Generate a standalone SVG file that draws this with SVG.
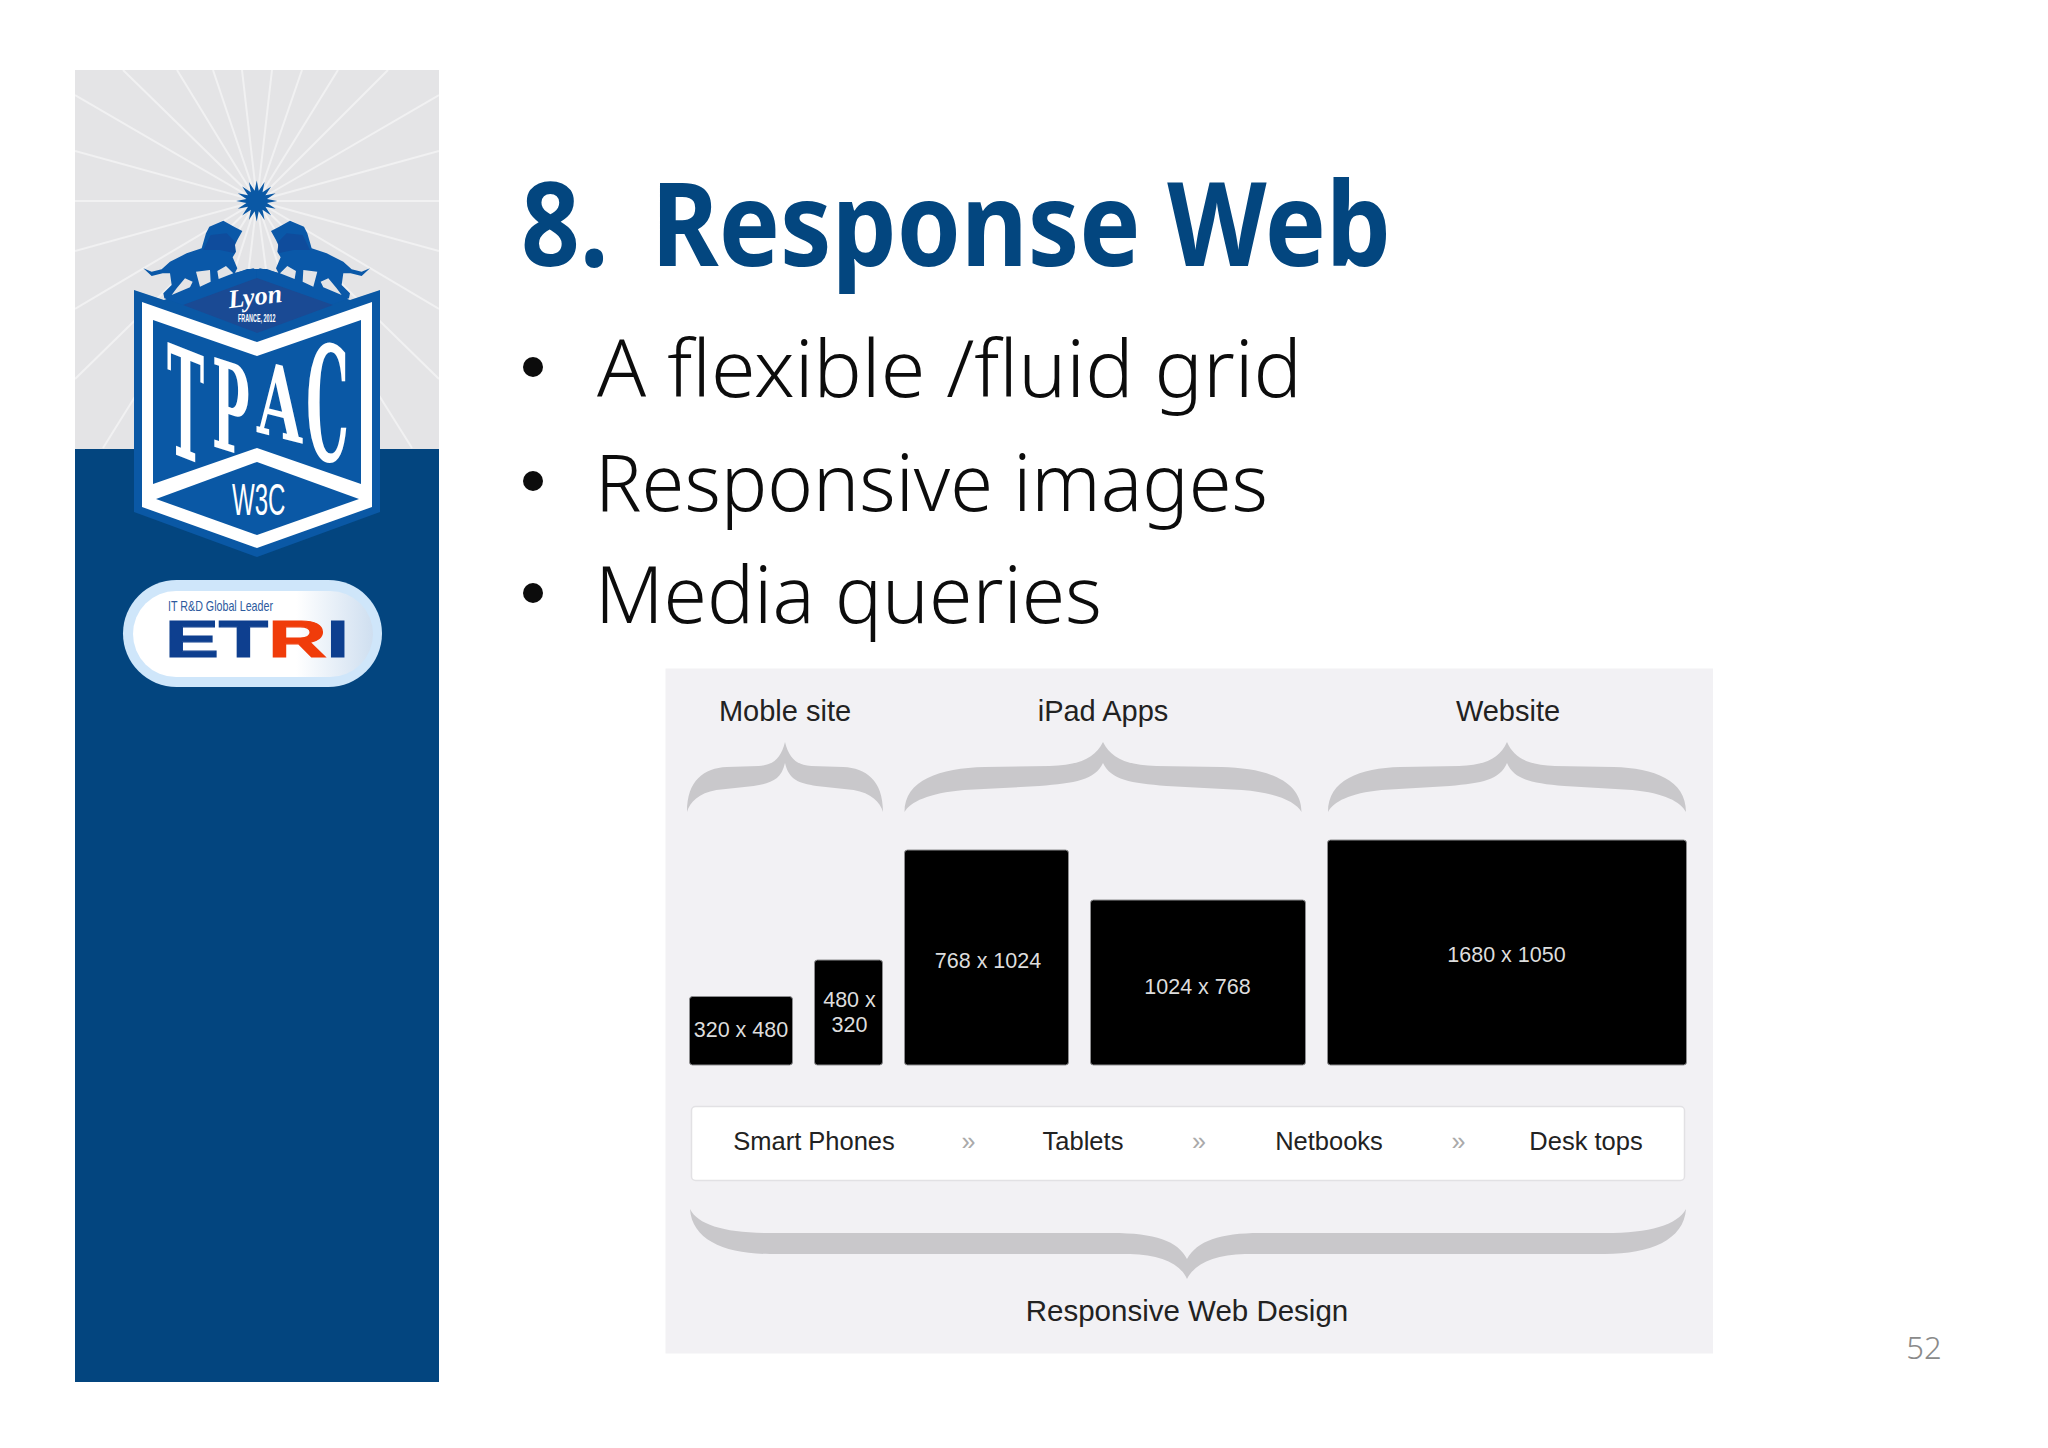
<svg xmlns="http://www.w3.org/2000/svg" width="2048" height="1448" viewBox="0 0 2048 1448">
<style>
.s{font-family:"Liberation Sans",Arial,sans-serif}
.n{font-family:"Noto Sans",sans-serif}
.lab{font-size:29px;fill:#222;text-anchor:middle}
.flow{font-size:25.5px;fill:#222;text-anchor:middle}
.arr{font-size:25px;fill:#aaa;text-anchor:middle}
.dim{font-size:21.5px;fill:#ddd;text-anchor:middle}
.box{fill:#000;stroke:#8d8d8f;stroke-width:1}
.bul{font-size:80px;fill:#0c0c0c;font-weight:300}
.brace{fill:#c9c8cb}
.ray{stroke:#f1f1f2;stroke-width:2;fill:none}
.tp{font-family:"DejaVu Serif",serif;font-weight:700;font-size:100px;fill:#fff}
</style>
<defs>
<clipPath id="skyClip"><rect x="75" y="70" width="364" height="379"/></clipPath>
<linearGradient id="pillGrad" x1="0" x2="1" y1="0" y2="0"><stop offset="0" stop-color="#fff"/><stop offset=".68" stop-color="#fff"/><stop offset="1" stop-color="#cfdff0"/></linearGradient>
<path id="brace" d="M0 0C-4 16-11.600 23-26.800 24L-59.600 25C-82.300 26-100 38-100 70C-97 60-88 51-70 48L-32 44C-14 41-4 38 0 21C4 38 14 41 32 44L70 48C88 51 97 60 100 70C100 38 82.300 26 59.600 25L26.800 24C11.600 23 4 16 0 0Z"/>
<g id="lion">
<path fill="#0a58a8" d="M70 295L95 305L125 298L150 275L200 250L245 235L258 190L268 170L310 152L345 172L367 183L352 210L345 225L348 245L338 262L352 295L345 308L400 295L410 300V330L190 405L133 385L130 370L155 345L150 310L128 310L95 318Z"/>
<path fill="#0f4c9c" d="M250 240L272 195L320 190L345 215L345 250L300 240Z"/>
<path fill="#e4e4e6" d="M228 305L270 300L272 335L240 350ZM155 375L210 352L218 335L195 325L170 355ZM292 303L318 288L340 310L296 327Z"/>
</g>
</defs>
<rect width="2048" height="1448" fill="#fff"/>
<g id="sidebar">
<rect x="75" y="70" width="364" height="379" fill="#e4e4e6"/>
<rect x="75" y="449" width="364" height="933" fill="#03457f"/>
<g clip-path="url(#skyClip)">
<path class="ray" d="M257 201L123 70M257 201L177 70M257 201L213 70M257 201L242 70M257 201L272 70M257 201L302 70M257 201L338 70M257 201L388 70M257 201L75 95M257 201L75 151M257 201L75 201M257 201L75 251M257 201L75 309M257 201L75 379M257 201L103 448M257 201L439 95M257 201L439 151M257 201L439 201M257 201L439 251M257 201L439 309M257 201L439 379M257 201L412 448M257 201L225 300M257 201L245 300M257 201L270 300M257 201L290 300"/>
</g>
</g>
<g id="tpac-logo">
<polygon fill="#0a58a5" points="256.7,180.5 258.75,190.7 264.55,182.1 262.5,192.3 271.2,186.5 265.4,195.2 275.6,193.15 267,199 277.2,201 267,203.05 275.6,208.85 265.4,206.8 271.2,215.5 262.5,209.7 264.55,219.9 258.75,211.3 256.7,221.5 254.65,211.3 248.85,219.9 250.9,209.7 242.2,215.5 248,206.8 237.8,208.85 246.4,203.05 236.2,201 246.4,199 237.8,193.15 248,195.2 242.2,186.5 250.9,192.3 248.85,182.1 254.65,190.7"/>
<polygon fill="#0a58a5" points="134,290 164,300 247,269 267,269 350,300 380,290 380,512 257,557 134,512"/>
<g transform="translate(120 170) scale(.3333)">
<use href="#lion"/>
<use href="#lion" transform="translate(820 0) scale(-1 1)"/>
</g>
<polygon fill="#1a4a94" points="183,305 257,278 333,305 257,333"/>
<polygon fill="#fff" points="142,302 257,342 372,302 372,507 257,548 142,507"/>
<polygon fill="#0a58a5" points="153,320 257,356 361,320 361,484 257,448 153,484"/>
<polygon fill="#0a58a5" points="156,499 257,462 359,499 257,535"/>
<text class="tp" transform="matrix(.5 .2 0 1.5 167 451)">T</text>
<text class="tp" transform="matrix(.5 .16 0 1.23 212 446)">P</text>
<text class="tp" transform="matrix(.58 .15 0 1 257 432)">A</text>
<text class="tp" transform="matrix(.54 0 0 1.6 306 461)">C</text>
<text class="s" transform="translate(232 515) scale(.535 1)" font-size="45" fill="#fff">W3C</text>
<text transform="rotate(-7 256 305)" x="256" y="305" text-anchor="middle" font-family="Liberation Serif,serif" font-style="italic" font-weight="700" font-size="26" fill="#fff">Lyon</text>
<text class="s" x="238" y="322" font-size="10.5" font-weight="700" fill="#fff" textLength="37.5" lengthAdjust="spacingAndGlyphs">FRANCE, 2012</text>
</g>
<g id="etri-logo">
<rect x="123" y="580" width="259" height="107" rx="53.5" fill="#cfe6fa"/>
<rect x="133" y="591" width="240" height="86" rx="43" fill="url(#pillGrad)"/>
<text class="s" x="168" y="611" font-size="15" fill="#2d5a9e" textLength="105" lengthAdjust="spacingAndGlyphs">IT R&amp;D Global Leader</text>
<text class="s" x="165" y="657" font-size="52" font-weight="700" fill="#0e3f8f" stroke="#0e3f8f" stroke-width="1.2" textLength="184" lengthAdjust="spacingAndGlyphs">ET<tspan fill="#f03c0a" stroke="#f03c0a">R</tspan>I</text>
</g>
<g id="title">
<text class="n" x="521" y="266" font-size="116" font-weight="700" fill="#03467f" textLength="870" lengthAdjust="spacingAndGlyphs">8. <tspan dx="18">Response Web</tspan></text>
</g>
<g id="bullets">
<circle cx="533" cy="367" r="10" fill="#0c0c0c"/>
<circle cx="533" cy="481" r="10" fill="#0c0c0c"/>
<circle cx="533" cy="593" r="10" fill="#0c0c0c"/>
<text class="n bul" x="597" y="397" textLength="705" lengthAdjust="spacingAndGlyphs">A flexible /fluid grid</text>
<text class="n bul" x="595" y="511" textLength="673" lengthAdjust="spacingAndGlyphs">Responsive images</text>
<text class="n bul" x="595" y="623" textLength="507" lengthAdjust="spacingAndGlyphs">Media queries</text>
</g>
<g id="panel"><rect x="665.500" y="668.500" width="1047.500" height="685" fill="#f2f1f4"/></g>
<g id="connectors">
<use href="#brace" class="brace" transform="translate(785 742) scale(.98 1)"/>
<use href="#brace" class="brace" transform="translate(1103 742) scale(1.985 1)"/>
<use href="#brace" class="brace" transform="translate(1507 742) scale(1.79 1)"/>
<path class="brace" d="M1187 1279C1180 1263 1160 1255 1130 1254L770 1254C725 1254 692 1240 690 1209C698 1225 725 1233 770 1233L1112 1233C1155 1233 1178 1241 1187 1259C1197 1241 1220 1233 1260 1233L1605 1233C1650 1233 1677 1225 1686 1209C1684 1240 1650 1254 1605 1254L1245 1254C1215 1255 1195 1263 1187 1279Z"/>
</g>
<g id="group-labels" class="s">
<text class="lab" x="785" y="721">Moble site</text>
<text class="lab" x="1103" y="721">iPad Apps</text>
<text class="lab" x="1508" y="721">Website</text>
</g>
<g id="box-320" class="s"><rect class="box" x="689.500" y="996.500" width="103" height="68.500" rx="3"/><text class="dim" x="741" y="1037">320 x 480</text></g>
<g id="box-480" class="s"><rect class="box" x="814.500" y="960" width="68" height="105" rx="3"/><text class="dim" x="849.500" y="1007">480 x</text><text class="dim" x="849.500" y="1032">320</text></g>
<g id="box-768" class="s"><rect class="box" x="904.500" y="850" width="164" height="215" rx="3"/><text class="dim" x="988" y="968">768 x 1024</text></g>
<g id="box-1024" class="s"><rect class="box" x="1090.500" y="900" width="215" height="165" rx="3"/><text class="dim" x="1197.500" y="994">1024 x 768</text></g>
<g id="box-1680" class="s"><rect class="box" x="1327.500" y="840" width="359" height="225" rx="3"/><text class="dim" x="1506.500" y="962">1680 x 1050</text></g>
<g id="device-bar" class="s">
<rect x="691.500" y="1106.500" width="993" height="74" rx="4" fill="#fff" stroke="#e2e1e4" stroke-width="1.500"/>
<text class="flow" x="814" y="1150">Smart Phones</text>
<text class="arr" x="968.500" y="1150">»</text>
<text class="flow" x="1083" y="1150">Tablets</text>
<text class="arr" x="1199" y="1150">»</text>
<text class="flow" x="1329" y="1150">Netbooks</text>
<text class="arr" x="1458.500" y="1150">»</text>
<text class="flow" x="1586" y="1150">Desk tops</text>
</g>
<g id="footer-label" class="s"><text class="lab" x="1187" y="1321" style="font-size:29.5px">Responsive Web Design</text></g>
<g id="page-number"><text class="n" x="1924" y="1359" font-size="31" fill="#8a8a8a" text-anchor="middle" font-weight="300">52</text></g>
</svg>
